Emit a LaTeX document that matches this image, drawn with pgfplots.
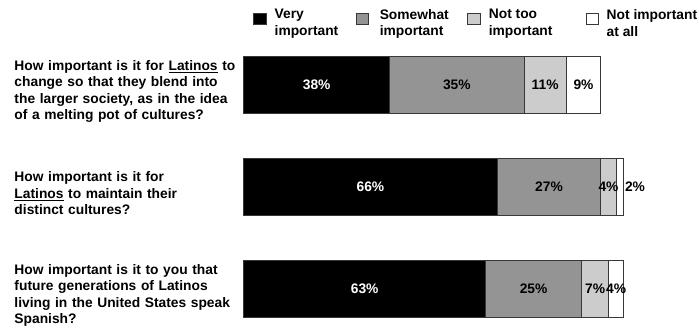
\documentclass[border=0pt]{standalone}
\usepackage{pgfplots}
\pgfplotsset{compat=1.18}
\usepackage{pgfplotstable}
\usepackage{fontspec}
\setmainfont{Liberation Sans}

\definecolor{somewhat}{gray}{0.58}
\definecolor{nottoo}{gray}{0.80}
\definecolor{edge}{gray}{0.22}

% Shares of respondents per answer, one row per question (3 = top)
\pgfplotstableread{
q  very some nottoo notatall
3  38   35   11     9
2  66   27   4      2
1  63   25   7      4
}\attitudes

% legend text: gap after the swatch, box width, two-line text
\newcommand{\lgd}[3]{\hspace*{#1}\parbox[c]{#2}{#3}}

\pgfplotsset{
  sq/.style={legend image code/.code={%
    \draw[fill=#1, draw=edge, line width=0.8pt] (0pt,-5.5pt) rectangle (12.5pt,5.5pt);}},
  panel/.style={
    at={(243.7pt,-7pt)}, anchor=south west,
    scale only axis, width=384pt, height=306pt,
    xmin=0, xmax=100, ymin=0.5, ymax=3.5,
    clip=false,
    axis line style={draw=none}, tick style={draw=none},
    xtick=\empty},
  pct/.style={draw=none, mark=none, point meta=explicit,
    nodes near coords={\pgfmathprintnumber[assume math mode=true]{\pgfplotspointmeta}\%},
    every node near coord/.append style={font=\bfseries\fontsize{13.8}{16}\selectfont,
      anchor=center, inner sep=0pt, text=#1}},
}

\begin{document}
\begin{tikzpicture}
\useasboundingbox (0,0) rectangle (699pt,333pt);
\begin{axis}[
  panel,
  xbar stacked, bar width=57.5pt,
  ytick={1,2,3},
  yticklabels={
    {How important is it to you that\\future generations of Latinos\\living in the United States speak\\Spanish?},
    {How important is it for\\\underline{Latinos} to maintain their\\distinct cultures?},
    {How important is it for \underline{Latinos} to\\change so that they blend into\\the larger society, as in the idea\\of a melting pot of cultures?}},
  yticklabel style={text width=229pt, align=left, inner sep=0pt,
    font=\bfseries\fontsize{13.8}{16.5}\selectfont, yshift=-6.5pt},
  legend style={at={(0.0242,1.0817)}, anchor=north west, draw=none, fill=none,
    inner sep=0pt, legend columns=4,
    nodes={inner sep=0pt, anchor=west},
    font=\bfseries\fontsize{13.8}{16.5}\selectfont,
    /tikz/every even column/.style={column sep=0pt}},
]
\addplot[fill=black, draw=edge, line width=0.8pt, sq=black]
  table[x=very, y=q] \attitudes;
\addlegendentry{\lgd{8.2pt}{81pt}{Very\\important}}
\addplot[fill=somewhat, draw=edge, line width=0.8pt, sq=somewhat]
  table[x=some, y=q] \attitudes;
\addlegendentry{\lgd{10.8pt}{87.7pt}{Somewhat\\important}}
\addplot[fill=nottoo, draw=edge, line width=0.8pt, sq=nottoo]
  table[x=nottoo, y=q] \attitudes;
\addlegendentry{\lgd{8.1pt}{96.7pt}{Not too\\important}}
\addplot[fill=white, draw=edge, line width=0.8pt, sq=white]
  table[x=notatall, y=q] \attitudes;
\addlegendentry{\lgd{7.8pt}{95pt}{Not important\\at all}}
\end{axis}
% value labels, centred on each segment (a very thin last segment gets its label beside the bar)
\begin{axis}[panel, ytick=\empty]
\addplot[pct=white] table[x expr={\thisrow{very}/2}, y=q, meta=very] \attitudes;
\addplot[pct=black] table[x expr={\thisrow{very}+\thisrow{some}/2}, y=q, meta=some] \attitudes;
\addplot[pct=black] table[x expr={\thisrow{very}+\thisrow{some}+\thisrow{nottoo}/2}, y=q, meta=nottoo] \attitudes;
\addplot[pct=black] table[x expr={\thisrow{very}+\thisrow{some}+\thisrow{nottoo}
    +ifthenelse(\thisrow{notatall}<3, \thisrow{notatall}+2.9, \thisrow{notatall}/2)}, y=q, meta=notatall] \attitudes;
\end{axis}
\end{tikzpicture}
\end{document}
